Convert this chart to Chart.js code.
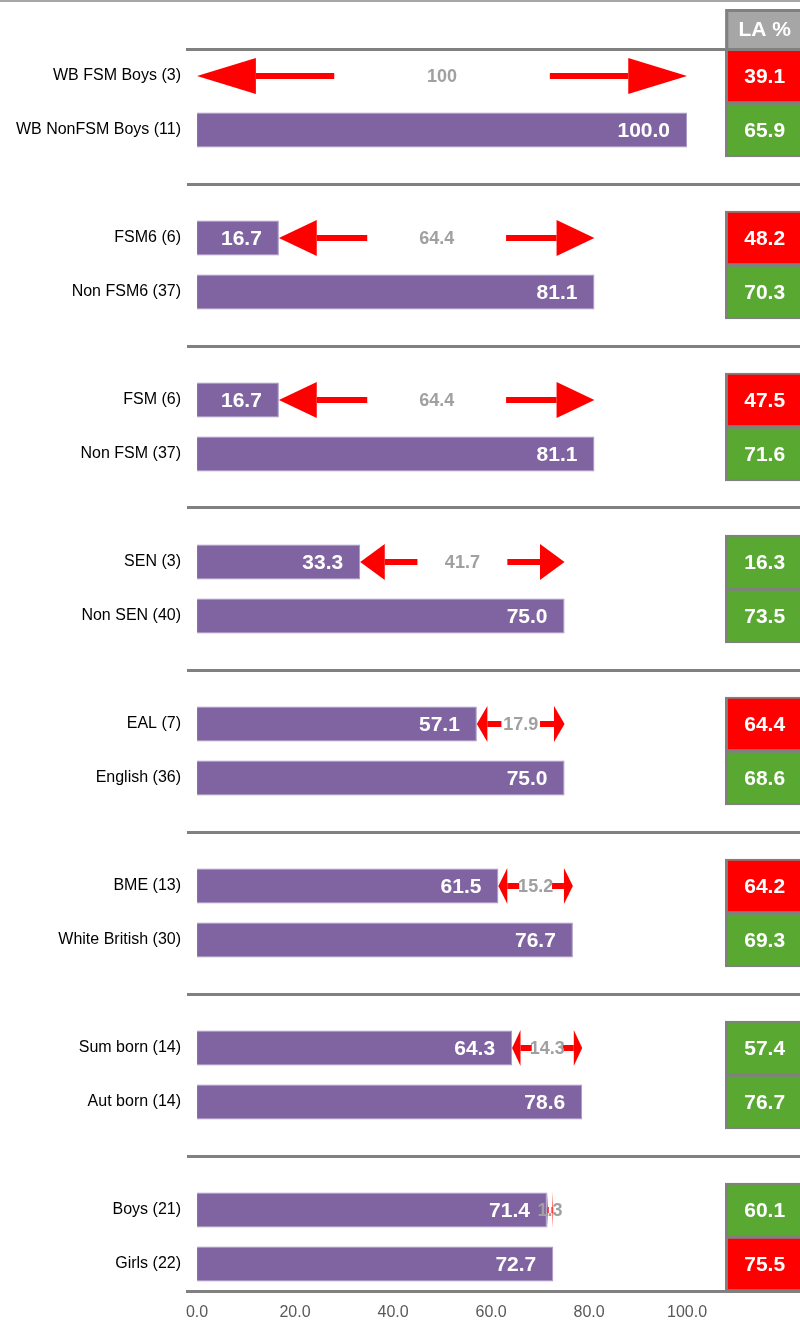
<!DOCTYPE html>
<html>
<head>
<meta charset="utf-8">
<script src="https://cdn.jsdelivr.net/npm/chart.js@4/dist/chart.umd.min.js"></script>
<style>
  body { margin: 0; background: #fff; }
  #wrap { position: relative; width: 800px; height: 1324px; }
  #topline { position: absolute; left: 0; top: 0; width: 800px; height: 2px; background: #a6a6a6; }
</style>
</head>
<body>
<div id="wrap">
  <div id="topline"></div>
  <canvas id="chart" width="800" height="1324"></canvas>
</div>
<script>
// rows, '' = spacer row between groups
const categories = [
    'WB FSM Boys (3)', 'WB NonFSM Boys (11)', '',
    'FSM6 (6)', 'Non FSM6 (37)', '',
    'FSM (6)', 'Non FSM (37)', '',
    'SEN (3)', 'Non SEN (40)', '',
    'EAL (7)', 'English (36)', '',
    'BME (13)', 'White British (30)', '',
    'Sum born (14)', 'Aut born (14)', '',
    'Boys (21)', 'Girls (22)'
];
const scores = [
    0, 100.0, null,
    16.7, 81.1, null,
    16.7, 81.1, null,
    33.3, 75.0, null,
    57.1, 75.0, null,
    61.5, 76.7, null,
    64.3, 78.6, null,
    71.4, 72.7
];
// gap between the two rows of each group
const gaps = [100, 64.4, 64.4, 41.7, 17.9, 15.2, 14.3, 1.3];
const laValues = [
    39.1, 65.9, null,
    48.2, 70.3, null,
    47.5, 71.6, null,
    16.3, 73.5, null,
    64.4, 68.6, null,
    64.2, 69.3, null,
    57.4, 76.7, null,
    60.1, 75.5
];
const laColors = [
    'red', 'green', null,
    'red', 'green', null,
    'red', 'green', null,
    'green', 'green', null,
    'red', 'green', null,
    'red', 'green', null,
    'green', 'green', null,
    'green', 'red'
];
const xTicks = [0, 20, 40, 60, 80, 100];

const xMin = -2.05, xMax = 123.05, laStart = 107.8;
const palette = { red: '#ff0000', green: '#58a831' };
const sans = '"Liberation Sans", Arial, sans-serif';

const annotate = {
    id: 'annotate',
    afterDraw(chart) {
        const { ctx, chartArea } = chart;
        const x = chart.scales.x, y = chart.scales.y;
        ctx.save();

        // header cell
        const hx = x.getPixelForValue(laStart);
        ctx.fillStyle = '#a6a6a6';
        ctx.fillRect(hx, 9, chartArea.right - hx + 5, chartArea.top - 9);
        ctx.strokeStyle = '#808080';
        ctx.lineWidth = 3;
        ctx.strokeRect(hx + 1.5, 10.5, chartArea.right - hx + 5, chartArea.top - 10);
        ctx.fillStyle = '#fff';
        ctx.font = 'bold 21px ' + sans;
        ctx.textAlign = 'center';
        ctx.textBaseline = 'middle';
        const cx = (hx + chartArea.right) / 2 + 2;
        ctx.fillText('LA %', cx, 30);

        // LA values
        ctx.font = 'bold 21px ' + sans;
        laValues.forEach((v, i) => {
            if (v == null) return;
            ctx.fillText(v.toFixed(1), cx, y.getPixelForValue(i) + 1);
        });

        // bar labels
        ctx.textAlign = 'right';
        chart.getDatasetMeta(0).data.forEach((bar, i) => {
            const v = scores[i];
            if (!v) return;
            ctx.fillText(v.toFixed(1), bar.x - 17, bar.y + 1);
        });

        // gap arrows
        gaps.forEach((g, k) => {
            const r = k * 3;
            const x1 = x.getPixelForValue(scores[r]);
            const x2 = x.getPixelForValue(scores[r + 1]);
            const yc = y.getPixelForValue(r);
            const L = x2 - x1, h = L * 0.12;
            ctx.fillStyle = '#ff0000';
            ctx.beginPath();
            ctx.moveTo(x1, yc); ctx.lineTo(x1 + h, yc - 18); ctx.lineTo(x1 + h, yc + 18);
            ctx.closePath(); ctx.fill();
            ctx.beginPath();
            ctx.moveTo(x2, yc); ctx.lineTo(x2 - h, yc - 18); ctx.lineTo(x2 - h, yc + 18);
            ctx.closePath(); ctx.fill();
            ctx.fillRect(x1 + h, yc - 3, L * 0.28 - h, 6);
            ctx.fillRect(x2 - L * 0.28, yc - 3, L * 0.28 - h, 6);
            ctx.fillStyle = '#a0a0a0';
            ctx.font = 'bold 18px ' + sans;
            ctx.textAlign = 'center';
            ctx.fillText(String(g), (x1 + x2) / 2, yc + 1);
        });
        ctx.restore();
    }
};

new Chart('chart', {
    type: 'bar',
    data: {
        labels: categories,
        datasets: [{
            data: scores,
            backgroundColor: '#8064a2',
            borderColor: '#a898c4',
            borderWidth: 1,
            barPercentage: 0.65,
            categoryPercentage: 1,
            grouped: false
        }, {
            data: laValues.map(v => v == null ? null : [laStart, xMax + 3]),
            backgroundColor: laColors.map(c => c ? palette[c] : 'transparent'),
            borderColor: '#808080',
            borderWidth: { top: 2, bottom: 2, left: 3, right: 3 },
            borderSkipped: false,
            barPercentage: 1,
            categoryPercentage: 1,
            grouped: false
        }]
    },
    options: {
        indexAxis: 'y',
        responsive: false,
        animation: false,
        devicePixelRatio: 1,
        layout: { padding: { top: 49, right: 0, left: 0, bottom: 0 } },
        plugins: {
            legend: { display: false },
            tooltip: { enabled: false }
        },
        scales: {
            x: {
                type: 'linear',
                min: xMin,
                max: xMax,
                afterBuildTicks: s => { s.ticks = xTicks.map(v => ({ value: v })); },
                afterFit: s => { s.height = 33; },
                grid: { display: false, drawTicks: false },
                border: { display: true, color: '#808080', width: 3 },
                ticks: {
                    padding: 12,
                    color: '#595959',
                    font: { family: sans, size: 16 },
                    callback: v => Number(v).toFixed(1)
                }
            },
            x2: {
                type: 'linear',
                position: 'top',
                min: xMin,
                max: xMax,
                afterFit: s => { s.height = 0; },
                grid: { display: false, drawTicks: false },
                border: { display: true, color: '#808080', width: 3 },
                ticks: { display: false }
            },
            y: {
                afterFit: s => { s.width = 187; },
                grid: {
                    offset: false,
                    drawTicks: false,
                    lineWidth: 3,
                    color: c => categories[c.index] === '' ? '#808080' : 'rgba(0,0,0,0)'
                },
                border: { display: false },
                ticks: {
                    autoSkip: false,
                    padding: 6,
                    color: '#000',
                    font: { family: sans, size: 16 }
                }
            }
        }
    },
    plugins: [annotate]
});
</script>
</body>
</html>
